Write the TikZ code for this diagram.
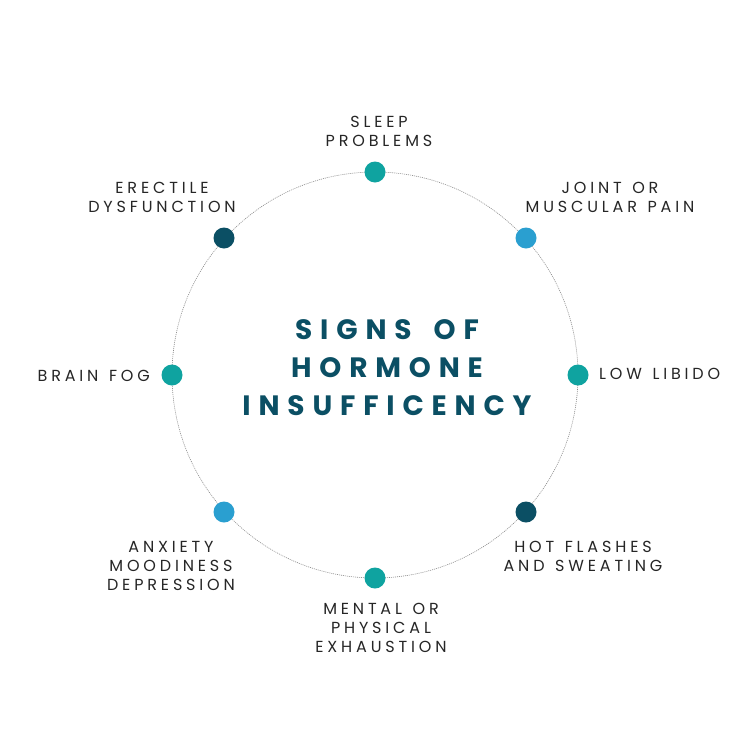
\documentclass[tikz,border=0pt]{standalone}
\usepackage{fontspec}
\setmainfont{Poppins}
\newfontfamily\labfont[LetterSpace=24,WordSpace=1.3]{Poppins}
\newfontfamily\titfont[LetterSpace=28,WordSpace=1.6]{Poppins Bold}
\definecolor{cteal}{HTML}{0FA3A0}
\definecolor{cblue}{HTML}{2A9FD0}
\definecolor{cdark}{HTML}{0B4F64}
\definecolor{ctext}{HTML}{262626}
\definecolor{cring}{HTML}{8A8A8A}
\begin{document}
\begin{tikzpicture}[x=1pt,y=-1pt,
  dotnode/.style={circle,minimum size=21pt,inner sep=0pt,fill=#1},
  lab/.style={font=\labfont\fontsize{16}{19}\selectfont,text=ctext,align=center,inner sep=0pt},
  tit/.style={font=\titfont\fontsize{28}{38}\selectfont,text=cdark,align=center,inner sep=0pt}]
\useasboundingbox (0,0) rectangle (750,750);
\fill[white] (0,0) rectangle (750,750);
\coordinate (c) at (375,375);
\draw[cring,line width=0.6pt,dash pattern=on 1pt off 1pt] (c) circle[radius=203];
\node[dotnode=cteal] (d1) at (375,172) {};
\node[dotnode=cblue] (d2) at (526,238) {};
\node[dotnode=cteal] (d3) at (578,375) {};
\node[dotnode=cdark] (d4) at (526,512) {};
\node[dotnode=cteal] (d5) at (375,578) {};
\node[dotnode=cblue] (d6) at (224,512) {};
\node[dotnode=cteal] (d7) at (172,375) {};
\node[dotnode=cdark] (d8) at (224,238) {};
\node[tit] (t) at (387,368) {SIGNS OF\\HORMONE\\INSUFFICENCY};
\node[lab] (l1) at (379,131) {SLEEP\\PROBLEMS};
\node[lab] (l2) at (610,197) {JOINT OR\\MUSCULAR PAIN};
\node[lab,anchor=west] (l3) at (599,374) {LOW LIBIDO};
\node[lab] (l4) at (583,556) {HOT FLASHES\\AND SWEATING};
\node[lab] (l5) at (381,628) {MENTAL OR\\PHYSICAL\\EXHAUSTION};
\node[lab] (l6) at (171,566) {ANXIETY\\MOODINESS\\DEPRESSION};
\node[lab,anchor=east] (l7) at (150,376) {BRAIN FOG};
\node[lab] (l8) at (162,197) {ERECTILE\\DYSFUNCTION};
\end{tikzpicture}
\end{document}
